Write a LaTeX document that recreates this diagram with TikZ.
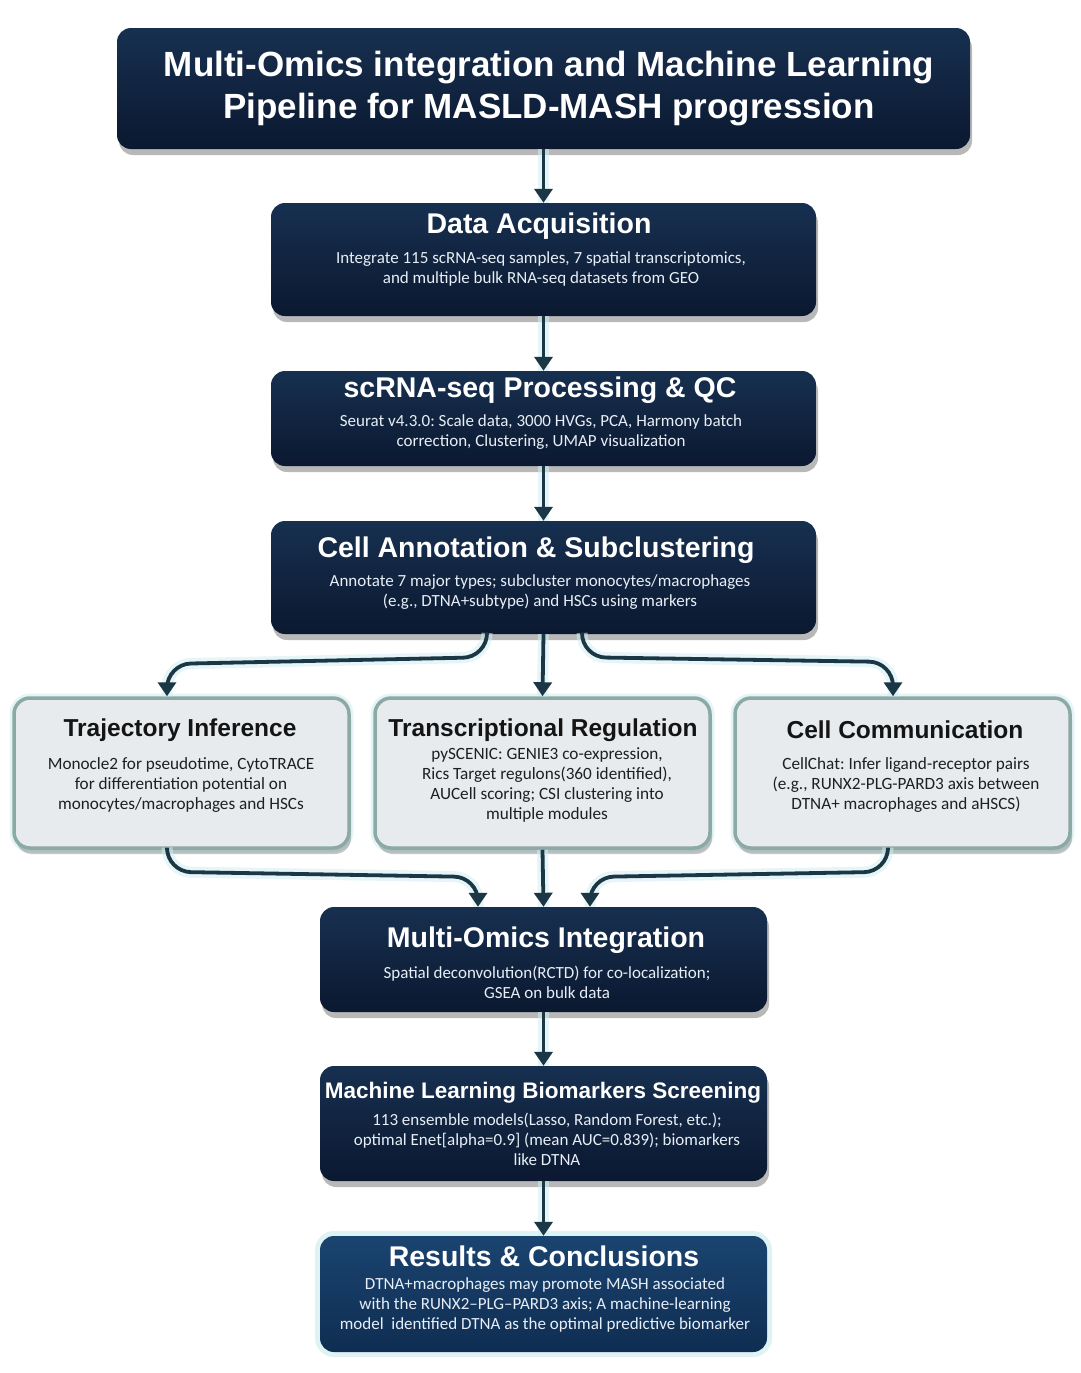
\documentclass[tikz,border=0pt]{standalone}
\usepackage{fontspec}
\setmainfont{Carlito}
\newfontfamily\headfont{Liberation Sans}
\frenchspacing
\usetikzlibrary{arrows.meta,shadows,calc}
\definecolor{navytop}{HTML}{173050}
\definecolor{navybot}{HTML}{0B1830}
\definecolor{restop}{HTML}{1A4470}
\definecolor{resbot}{HTML}{0F2D52}
\definecolor{lightfill}{HTML}{E7EBEE}
\definecolor{lightborder}{HTML}{8BA9A5}
\definecolor{arrowcol}{HTML}{1B3745}
\definecolor{glowcol}{HTML}{D2EEF2}
\definecolor{bodywhite}{HTML}{E8EEF5}
\begin{document}
\begin{tikzpicture}[x=1pt,y=-1pt,
  darkbox/.style={rectangle, rounded corners=14pt, top color=navytop, bottom color=navybot, draw=none,
    drop shadow={shadow xshift=2pt, shadow yshift=-6pt, opacity=0.28, fill=black}},
  resbox/.style={rectangle, rounded corners=14pt, top color=restop, bottom color=resbot, draw=none,
    preaction={draw=glowcol, line width=10pt, opacity=0.7}},
  lightbox/.style={rectangle, rounded corners=16pt, fill=lightfill, draw=lightborder, line width=3.5pt,
    preaction={draw=glowcol, line width=9pt, opacity=0.6},
    drop shadow={shadow xshift=2pt, shadow yshift=-6pt, opacity=0.22, fill=black}},
  bigtitle/.style={text=white, font=\headfont\bfseries\fontsize{35}{42}\selectfont, align=center},
  dtitle/.style={text=white, font=\headfont\bfseries\fontsize{28.5}{32}\selectfont, align=center},
  ltitle/.style={text=black!92, font=\headfont\bfseries\fontsize{24.5}{28}\selectfont, align=center},
  dbody/.style={text=bodywhite, font=\fontsize{17}{20}\selectfont, align=center},
  lbody/.style={text=black!88, font=\fontsize{17.2}{20}\selectfont, align=center},
  conn/.style={draw=arrowcol, line width=3.8pt, -{Triangle[width=18pt,length=14pt]},
    preaction={draw=glowcol, line width=11pt, opacity=0.55, -}},
]
\useasboundingbox[fill=white] (0,0) rectangle (1080,1373);

% boxes
\node[darkbox, minimum width=853pt, minimum height=121pt] (title) at (543.5,88.5) {};
\node[bigtitle] (titletext) at (549,89) {Multi-Omics integration and Machine Learning\\Pipeline for MASLD-MASH progression};

\node[darkbox, minimum width=545pt, minimum height=113pt] (data) at (543.5,259.5) {};
\node[dtitle] (datat) at (539,226) {Data Acquisition};
\node[dbody] (datab) at (541,269) {Integrate 115 scRNA-seq samples, 7 spatial transcriptomics,\\and multiple bulk RNA-seq datasets from GEO};

\node[darkbox, minimum width=545pt, minimum height=95pt] (scrna) at (543.5,418.5) {};
\node[dtitle] (scrnat) at (540,390) {scRNA-seq Processing \& QC};
\node[dbody] (scrnab) at (541,432) {Seurat v4.3.0: Scale data, 3000 HVGs, PCA, Harmony batch\\correction, Clustering, UMAP visualization};

\node[darkbox, minimum width=545pt, minimum height=113pt] (cell) at (543.5,577.5) {};
\node[dtitle] (cellt) at (536,550) {Cell Annotation \& Subclustering};
\node[dbody] (cellb) at (540,592) {Annotate 7 major types; subcluster monocytes/macrophages\\(e.g., DTNA+subtype) and HSCs using markers};

\node[lightbox, minimum width=335pt, minimum height=150pt] (traj) at (181.5,773) {};
\node[ltitle] (trajt) at (180,730) {Trajectory Inference};
\node[lbody] (trajb) at (181,785) {Monocle2 for pseudotime, CytoTRACE\\for differentiation potential on\\monocytes/macrophages and HSCs};

\node[lightbox, minimum width=335pt, minimum height=150pt] (trans) at (542.5,773) {};
\node[ltitle] (transt) at (543,730) {Transcriptional Regulation};
\node[lbody] (transb) at (547,785) {pySCENIC: GENIE3 co-expression,\\Rics Target regulons(360 identified),\\AUCell scoring; CSI clustering into\\multiple modules};

\node[lightbox, minimum width=335pt, minimum height=150pt] (comm) at (902.5,773) {};
\node[ltitle] (commt) at (905,730) {Cell Communication};
\node[lbody] (commb) at (906,785) {CellChat: Infer ligand-receptor pairs\\(e.g., RUNX2-PLG-PARD3 axis between\\DTNA+ macrophages and aHSCS)};

\node[darkbox, minimum width=447pt, minimum height=105pt] (multi) at (543.5,959.5) {};
\node[dtitle] (multit) at (546,940) {Multi-Omics Integration};
\node[dbody] (multib) at (547,982) {Spatial deconvolution(RCTD) for co-localization;\\GSEA on bulk data};

\node[darkbox, minimum width=447pt, minimum height=115pt] (ml) at (543.5,1123.5) {};
\node[dtitle, font=\headfont\bfseries\fontsize{22.5}{26}\selectfont] (mlt) at (543,1093) {Machine Learning Biomarkers Screening};
\node[dbody] (mlb) at (547,1139) {113 ensemble models(Lasso, Random Forest, etc.);\\optimal Enet[alpha=0.9] (mean AUC=0.839); biomarkers\\like DTNA};

\node[resbox, minimum width=447pt, minimum height=116pt] (res) at (543.5,1294) {};
\node[dtitle] (rest) at (544,1256) {Results \& Conclusions};
\node[dbody] (resb) at (545,1305) {DTNA+macrophages may promote MASH associated\\with the RUNX2--PLG--PARD3 axis; A machine-learning\\model\ \ identified DTNA as the optimal predictive biomarker};

% connectors
\draw[conn] (title.south) -- (data.north);
\draw[conn] (data.south) -- (scrna.north);
\draw[conn] (scrna.south) -- (cell.north);
\draw[conn] (cell.south) -- (trans.north);
\draw[conn, rounded corners=24pt] ([xshift=-56.5pt]cell.south) -- ++(0,23) -- (167,664) -- ([xshift=-14.5pt]traj.north);
\draw[conn, rounded corners=24pt] ([xshift=38.5pt]cell.south) -- ++(0,23) -- (893,662) -- ([xshift=-9.5pt]comm.north);
\draw[conn, rounded corners=24pt] ([xshift=-14.5pt]traj.south) -- ++(0,22) -- (478,877) -- ([xshift=-65.5pt]multi.north);
\draw[conn] (trans.south) -- (multi.north);
\draw[conn, rounded corners=24pt] ([xshift=-14.5pt]comm.south) -- ++(0,22) -- (590,877) -- ([xshift=46.5pt]multi.north);
\draw[conn] (multi.south) -- (ml.north);
\draw[conn] (ml.south) -- (res.north);
\end{tikzpicture}
\end{document}
